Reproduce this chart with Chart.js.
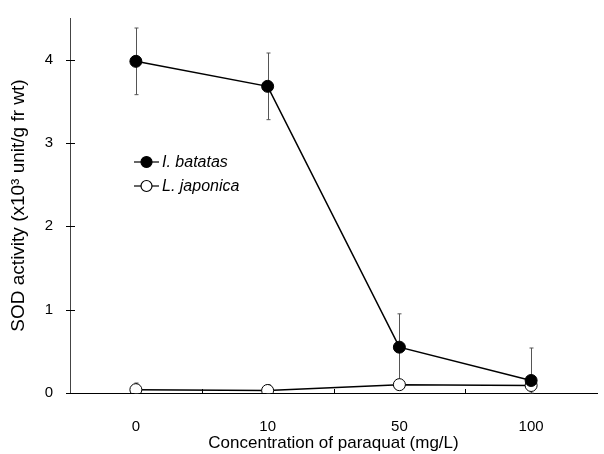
<!DOCTYPE html>
<html>
<head>
<meta charset="utf-8">
<script src="https://cdn.jsdelivr.net/npm/chart.js@4/dist/chart.umd.min.js"></script>
<style>
  html, body { margin: 0; padding: 0; background: #fff; }
  #wrap { width: 604px; height: 454px; position: relative; }
</style>
</head>
<body>
<div id="wrap"><canvas id="sodChart"></canvas></div>
<script>
// Data
const concentrations = ['0', '10', '50', '100'];
const batatasValues = [3.98, 3.68, 0.55, 0.15];
const batatasErrors = [0.40, 0.40, 0.40, 0.39];
const japonicaValues = [0.04, 0.03, 0.10, 0.09];
const japonicaErrors = [0.08, 0.07, 0.05, 0.05];
const yTicks = [0, 1, 2, 3, 4];

const FONT = '"Liberation Sans", Arial, sans-serif';

// error bars, cross ticks, and the little legend inside the plot
const extras = {
  id: 'extras',
  beforeDatasetsDraw(chart) {
    const { ctx, scales: { x, y } } = chart;
    ctx.save();
    ctx.strokeStyle = '#555';
    ctx.lineWidth = 1;
    const sets = [[batatasValues, batatasErrors], [japonicaValues, japonicaErrors]];
    sets.forEach(([vals, errs]) => {
      vals.forEach((v, i) => {
        const px = Math.round(x.getPixelForValue(i)) + 0.5;
        const top = y.getPixelForValue(v + errs[i]);
        const bot = y.getPixelForValue(Math.max(0, v - errs[i]));
        ctx.beginPath();
        ctx.moveTo(px, top); ctx.lineTo(px, bot);
        ctx.moveTo(px - 2, top); ctx.lineTo(px + 2, top);
        ctx.moveTo(px - 2, bot); ctx.lineTo(px + 2, bot);
        ctx.stroke();
      });
    });
    ctx.restore();
  },
  afterDraw(chart) {
    const { ctx, scales: { x, y }, chartArea } = chart;
    ctx.save();
    ctx.strokeStyle = '#000';
    ctx.lineWidth = 1;
    // y ticks crossing the axis
    yTicks.forEach(t => {
      const py = Math.round(y.getPixelForValue(t)) + 0.5;
      ctx.beginPath();
      ctx.moveTo(chartArea.left - 4, py); ctx.lineTo(chartArea.left + 5, py);
      ctx.stroke();
    });
    // x ticks between categories, pointing up
    for (let i = 1; i < concentrations.length; i++) {
      const px = Math.round((x.getPixelForValue(i - 1) + x.getPixelForValue(i)) / 2) + 0.5;
      ctx.beginPath();
      ctx.moveTo(px, chartArea.bottom); ctx.lineTo(px, chartArea.bottom - 4);
      ctx.stroke();
    }
    // legend
    const items = [
      { label: 'I. batatas', fill: '#000', yy: 162 },
      { label: 'L. japonica', fill: '#fff', yy: 186 }
    ];
    ctx.font = 'italic 16px ' + FONT;
    ctx.textBaseline = 'middle';
    items.forEach(it => {
      ctx.lineWidth = 1.2;
      ctx.beginPath();
      ctx.moveTo(134, it.yy); ctx.lineTo(159, it.yy);
      ctx.stroke();
      ctx.beginPath();
      ctx.arc(146.5, it.yy, 5.5, 0, Math.PI * 2);
      ctx.fillStyle = it.fill;
      ctx.fill();
      ctx.stroke();
      ctx.fillStyle = '#000';
      ctx.fillText(it.label, 162, it.yy + 1);
    });
    ctx.restore();
  }
};

new Chart(document.getElementById('sodChart'), {
  type: 'line',
  data: {
    labels: concentrations,
    datasets: [
      {
        label: 'I. batatas',
        data: batatasValues,
        borderColor: '#000',
        borderWidth: 1.5,
        backgroundColor: '#000',
        pointBackgroundColor: '#000',
        pointBorderColor: '#000',
        pointRadius: 6,
        pointBorderWidth: 1,
        tension: 0
      },
      {
        label: 'L. japonica',
        data: japonicaValues,
        borderColor: '#000',
        borderWidth: 1.5,
        pointBackgroundColor: '#fff',
        pointBorderColor: '#000',
        pointRadius: 6,
        pointBorderWidth: 1,
        tension: 0
      }
    ]
  },
  options: {
    responsive: true,
    maintainAspectRatio: false,
    animation: false,
    layout: { padding: { top: 15, right: 0, left: 0, bottom: 0 } },
    plugins: {
      legend: { display: false },
      tooltip: { enabled: false }
    },
    scales: {
      x: {
        offset: true,
        grid: { display: false },
        border: { display: true, color: '#000', width: 1 },
        ticks: { color: '#000', font: { family: FONT, size: 15 }, padding: 17 },
        title: {
          display: true,
          text: 'Concentration of paraquat (mg/L)',
          color: '#000',
          font: { family: FONT, size: 17 },
          padding: { top: 3, bottom: 0 }
        },
        afterFit(s) { s.height = 61; }
      },
      y: {
        min: 0,
        max: 4.5,
        afterBuildTicks(s) { s.ticks = yTicks.map(v => ({ value: v })); },
        grid: { display: false },
        border: { display: true, color: '#444', width: 1, dash: [10, 2] },
        ticks: { color: '#000', font: { family: FONT, size: 15 }, padding: 9 },
        title: {
          display: true,
          text: 'SOD activity (x10\u00b3 unit/g fr wt)',
          color: '#000',
          font: { family: FONT, size: 19 },
          padding: { top: 7, bottom: 8 }
        },
        afterFit(s) { s.width = 70; }
      }
    }
  },
  plugins: [extras]
});
</script>
</body>
</html>
